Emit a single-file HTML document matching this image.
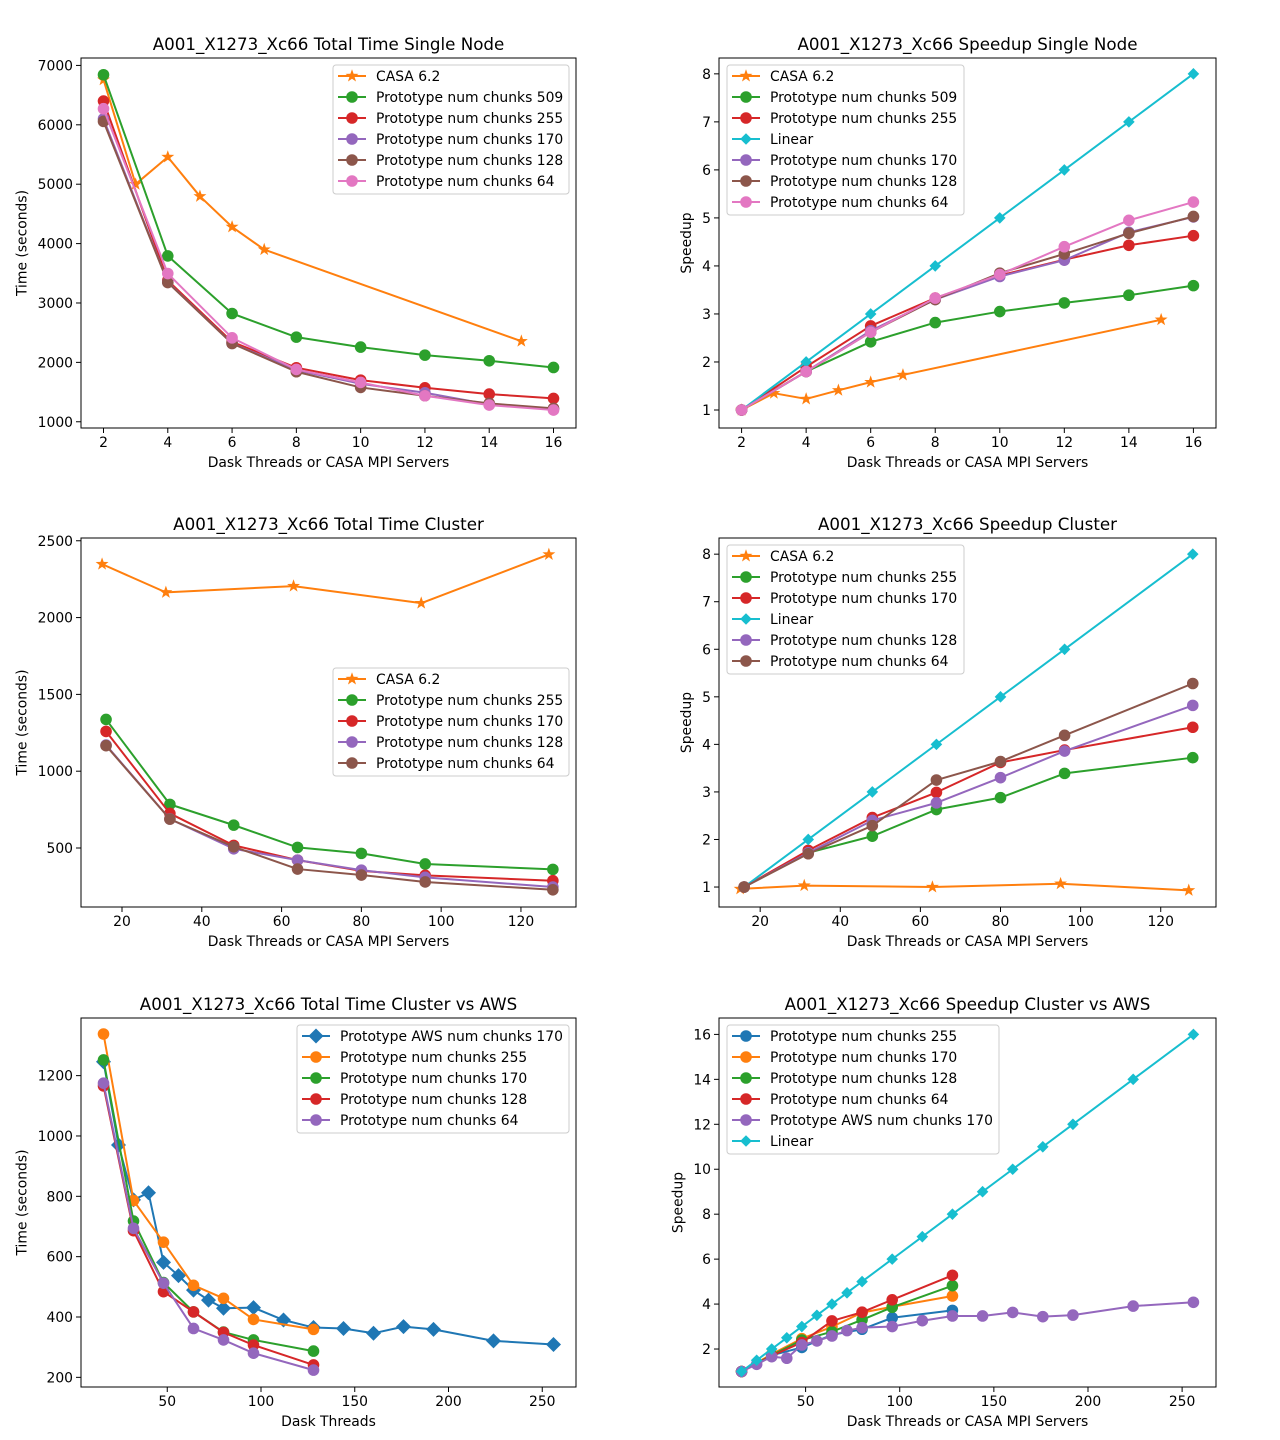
<!DOCTYPE html>
<html><head><meta charset="utf-8"><title>A001_X1273_Xc66 scaling charts</title>
<style>
html,body{margin:0;padding:0;background:#fff;}
svg{display:block;font-family:"DejaVu Sans","Liberation Sans",sans-serif;}
</style></head>
<body>
<svg id="fig" width="1280" height="1440" viewBox="0 0 1280 1440" xmlns="http://www.w3.org/2000/svg"></svg>
<script>
// ---------- Data ----------
const p1CasaX = [2,3,4,5,6,7,15];
const p1CasaY = [6759,5000,5458,4796,4281,3899,2357];
const p1ThreadsX = [2,4,6,8,10,12,14,16];
const p1Chunks509Y = [6843,3793,2823,2425,2257,2122,2027,1914];
const p1Chunks255Y = [6400,3380,2346,1909,1701,1572,1466,1393];
const p1Chunks170Y = [6100,3350,2320,1870,1640,1488,1290,1215];
const p1Chunks128Y = [6058,3344,2318,1842,1578,1438,1309,1225];
const p1Chunks64Y = [6271,3496,2413,1881,1662,1438,1281,1197];

const p2CasaY = [1,1.35,1.23,1.41,1.58,1.73,2.88];
const p2Chunks509Y = [1,1.8,2.42,2.82,3.05,3.23,3.39,3.59];
const p2Chunks255Y = [1,1.9,2.75,3.33,3.8,4.13,4.43,4.63];
const p2LinearY = [1,2,3,4,5,6,7,8];
const p2Chunks170Y = [1,1.8,2.65,3.3,3.78,4.12,4.7,5.02];
const p2Chunks128Y = [1,1.8,2.62,3.3,3.85,4.25,4.68,5.03];
const p2Chunks64Y = [1,1.8,2.62,3.33,3.82,4.4,4.95,5.33];

const p3CasaX = [15,31,63,95,127];
const p3CasaY = [2348,2164,2205,2094,2411];
const p3ThreadsX = [16,32,48,64,80,96,128];
const p3Chunks255Y = [1337,784,649,504,465,396,361];
const p3Chunks170Y = [1259,725,517,421,351,322,287];
const p3Chunks128Y = [1170,689,495,421,356,309,246];
const p3Chunks64Y = [1166,688,508,363,324,279,228];

const p4CasaY = [0.96,1.03,1.0,1.07,0.93];
const p4Chunks255Y = [1,1.72,2.07,2.63,2.88,3.39,3.72];
const p4Chunks170Y = [1,1.77,2.46,2.99,3.62,3.88,4.36];
const p4LinearY = [1,2,3,4,5,6,8];
const p4Chunks128Y = [1,1.72,2.4,2.77,3.30,3.86,4.82];
const p4Chunks64Y = [1,1.70,2.29,3.25,3.64,4.19,5.28];

const awsX = [16,24,32,40,48,56,64,72,80,96,112,128,144,160,176,192,224,256];
const p5AwsY = [1246,970,788,812,581,537,489,456,429,431,390,365,362,346,368,359,321,309];
const p5Chunks255Y = [1338,786,648,505,462,392,359];
const p5Chunks170Y = [1252,718,514,417,350,324,287];
const p5Chunks128Y = [1166,686,484,417,349,307,241];
const p5Chunks64Y = [1175,694,512,362,324,280,224];

const p6Chunks255Y = [1,1.72,2.07,2.63,2.88,3.39,3.72];
const p6Chunks170Y = [1,1.77,2.46,2.99,3.62,3.88,4.36];
const p6Chunks128Y = [1,1.72,2.4,2.77,3.30,3.86,4.82];
const p6Chunks64Y = [1,1.70,2.29,3.25,3.64,4.19,5.28];
const p6AwsY = [1,1.32,1.66,1.59,2.18,2.36,2.58,2.82,2.95,3.0,3.26,3.47,3.47,3.63,3.44,3.51,3.91,4.08];
const p6LinearY = [1,1.5,2,2.5,3,3.5,4,4.5,5,6,7,8,9,10,11,12,14,16];

const ticksSingleX = [2,4,6,8,10,12,14,16];
const ticksTimeSingleY = [1000,2000,3000,4000,5000,6000,7000];
const ticksSpeed8Y = [1,2,3,4,5,6,7,8];
const ticksClusterX = [20,40,60,80,100,120];
const ticksTimeClusterY = [500,1000,1500,2000,2500];
const ticksAwsX = [50,100,150,200,250];
const ticksTimeAwsY = [200,400,600,800,1000,1200];
const ticksSpeed16Y = [2,4,6,8,10,12,14,16];

// ---------- Rendering ----------
const C = {blue:'#1f77b4',orange:'#ff7f0e',green:'#2ca02c',red:'#d62728',purple:'#9467bd',brown:'#8c564b',pink:'#e377c2',cyan:'#17becf'};
const NS = 'http://www.w3.org/2000/svg';
const svg = document.getElementById('fig');
function mk(tag, attrs, parent){
  const e = document.createElementNS(NS, tag);
  for (const k in attrs) e.setAttribute(k, attrs[k]);
  (parent||svg).appendChild(e);
  return e;
}
function markerEl(kind, cx, cy, color, size, parent){
  let e;
  if (kind==='o'){
    e = mk('circle',{cx:cx,cy:cy,r:size||5.6,fill:color},parent);
  } else if (kind==='D'){
    const h = size||6;
    e = mk('path',{d:`M${cx},${cy-h}L${cx+h},${cy}L${cx},${cy+h}L${cx-h},${cy}Z`,fill:color},parent);
  } else {
    const R = size||6.5, r = R*0.4; let d='';
    for (let i=0;i<10;i++){
      const a = -Math.PI/2 + i*Math.PI/5; const rr = i%2?r:R;
      d += (i?'L':'M') + (cx+rr*Math.cos(a)).toFixed(2)+','+(cy+rr*Math.sin(a)).toFixed(2);
    }
    e = mk('path',{d:d+'Z',fill:color},parent);
  }
  return e;
}

const panels = [
 {id:'single-time', box:[81,58,576,428], xd:[1.3,16.7], yd:[895,7125], xt:ticksSingleX, yt:ticksTimeSingleY,
  title:'A001_X1273_Xc66 Total Time Single Node', xl:'Dask Threads or CASA MPI Servers', yl:'Time (seconds)',
  legend:[333,65,236],
  series:[['CASA 6.2',p1CasaX,p1CasaY,C.orange,'*'],['Prototype num chunks 509',p1ThreadsX,p1Chunks509Y,C.green,'o'],
   ['Prototype num chunks 255',p1ThreadsX,p1Chunks255Y,C.red,'o'],['Prototype num chunks 170',p1ThreadsX,p1Chunks170Y,C.purple,'o'],
   ['Prototype num chunks 128',p1ThreadsX,p1Chunks128Y,C.brown,'o'],['Prototype num chunks 64',p1ThreadsX,p1Chunks64Y,C.pink,'o']]},
 {id:'single-speedup', box:[719,58,1216,428], xd:[1.3,16.7], yd:[0.625,8.33], xt:ticksSingleX, yt:ticksSpeed8Y,
  title:'A001_X1273_Xc66 Speedup Single Node', xl:'Dask Threads or CASA MPI Servers', yl:'Speedup',
  legend:[727,65,237],
  series:[['CASA 6.2',p1CasaX,p2CasaY,C.orange,'*'],['Prototype num chunks 509',p1ThreadsX,p2Chunks509Y,C.green,'o'],
   ['Prototype num chunks 255',p1ThreadsX,p2Chunks255Y,C.red,'o'],['Linear',p1ThreadsX,p2LinearY,C.cyan,'D'],
   ['Prototype num chunks 170',p1ThreadsX,p2Chunks170Y,C.purple,'o'],['Prototype num chunks 128',p1ThreadsX,p2Chunks128Y,C.brown,'o'],
   ['Prototype num chunks 64',p1ThreadsX,p2Chunks64Y,C.pink,'o']]},
 {id:'cluster-time', box:[81,538,576,907], xd:[9.72,133.8], yd:[116,2518], xt:ticksClusterX, yt:ticksTimeClusterY,
  title:'A001_X1273_Xc66 Total Time Cluster', xl:'Dask Threads or CASA MPI Servers', yl:'Time (seconds)',
  legend:[333,668,236],
  series:[['CASA 6.2',p3CasaX,p3CasaY,C.orange,'*'],['Prototype num chunks 255',p3ThreadsX,p3Chunks255Y,C.green,'o'],
   ['Prototype num chunks 170',p3ThreadsX,p3Chunks170Y,C.red,'o'],['Prototype num chunks 128',p3ThreadsX,p3Chunks128Y,C.purple,'o'],
   ['Prototype num chunks 64',p3ThreadsX,p3Chunks64Y,C.brown,'o']]},
 {id:'cluster-speedup', box:[719,538,1216,907], xd:[9.72,133.8], yd:[0.58,8.34], xt:ticksClusterX, yt:ticksSpeed8Y,
  title:'A001_X1273_Xc66 Speedup Cluster', xl:'Dask Threads or CASA MPI Servers', yl:'Speedup',
  legend:[727,545,237],
  series:[['CASA 6.2',p3CasaX,p4CasaY,C.orange,'*'],['Prototype num chunks 255',p3ThreadsX,p4Chunks255Y,C.green,'o'],
   ['Prototype num chunks 170',p3ThreadsX,p4Chunks170Y,C.red,'o'],['Linear',p3ThreadsX,p4LinearY,C.cyan,'D'],
   ['Prototype num chunks 128',p3ThreadsX,p4Chunks128Y,C.purple,'o'],['Prototype num chunks 64',p3ThreadsX,p4Chunks64Y,C.brown,'o']]},
 {id:'aws-time', box:[81,1018,576,1387], xd:[4,268], yd:[168,1391], xt:ticksAwsX, yt:ticksTimeAwsY,
  title:'A001_X1273_Xc66 Total Time Cluster vs AWS', xl:'Dask Threads', yl:'Time (seconds)',
  legend:[297,1025,272],
  series:[['Prototype AWS num chunks 170',awsX,p5AwsY,C.blue,'DL'],['Prototype num chunks 255',p3ThreadsX,p5Chunks255Y,C.orange,'o'],
   ['Prototype num chunks 170',p3ThreadsX,p5Chunks170Y,C.green,'o'],['Prototype num chunks 128',p3ThreadsX,p5Chunks128Y,C.red,'o'],
   ['Prototype num chunks 64',p3ThreadsX,p5Chunks64Y,C.purple,'o']]},
 {id:'aws-speedup', box:[719,1018,1216,1387], xd:[4,268], yd:[0.31,16.73], xt:ticksAwsX, yt:ticksSpeed16Y,
  title:'A001_X1273_Xc66 Speedup Cluster vs AWS', xl:'Dask Threads or CASA MPI Servers', yl:'Speedup',
  legend:[727,1025,272],
  series:[['Prototype num chunks 255',p3ThreadsX,p6Chunks255Y,C.blue,'o'],['Prototype num chunks 170',p3ThreadsX,p6Chunks170Y,C.orange,'o'],
   ['Prototype num chunks 128',p3ThreadsX,p6Chunks128Y,C.green,'o'],['Prototype num chunks 64',p3ThreadsX,p6Chunks64Y,C.red,'o'],
   ['Prototype AWS num chunks 170',awsX,p6AwsY,C.purple,'o'],['Linear',awsX,p6LinearY,C.cyan,'D']]}
];

function mSize(kind){ return kind==='DL'?7.5:(kind==='D'?5.8:(kind==='o'?5.8:6.8)); }
function mKind(kind){ return kind==='DL'?'D':kind; }

panels.forEach(p=>{
  const [x0,y0,x1,y1] = p.box;
  const sx = v => x0 + (v-p.xd[0])/(p.xd[1]-p.xd[0])*(x1-x0);
  const sy = v => y1 - (v-p.yd[0])/(p.yd[1]-p.yd[0])*(y1-y0);
  const g = mk('g',{});
  
  

  const t = mk('text',{x:(x0+x1)/2,y:y0-8,'text-anchor':'middle','font-size':'16.7px',fill:'#000'},g);
  t.textContent = p.title;
  
  

  const xa = mk('g',{},g);
  
  
  p.xt.forEach(v=>{
    const x = sx(v);
    mk('line',{x1:x,y1:y1,x2:x,y2:y1+5,stroke:'#000','stroke-width':1},xa);
    const tl = mk('text',{x:x,y:y1+19,'text-anchor':'middle','font-size':'13.9px'},xa);
    tl.textContent = String(v);
    
    
  });
  const xl = mk('text',{x:(x0+x1)/2,y:y1+39,'text-anchor':'middle','font-size':'13.9px'},g);
  xl.textContent = p.xl;
  
  

  const ya = mk('g',{},g);
  
  
  p.yt.forEach(v=>{
    const y = sy(v);
    mk('line',{x1:x0-5,y1:y,x2:x0,y2:y,stroke:'#000','stroke-width':1},ya);
    const tl = mk('text',{x:x0-8,y:y+5,'text-anchor':'end','font-size':'13.9px'},ya);
    tl.textContent = String(v);
    
    
  });
  const maxLen = Math.max(...p.yt.map(v=>String(v).length));
  const ylx = x0 - 8 - maxLen*8.85 - 11;
  const yl = mk('text',{x:ylx,y:(y0+y1)/2,'text-anchor':'middle','font-size':'13.9px',transform:`rotate(-90 ${ylx} ${(y0+y1)/2})`},g);
  yl.textContent = p.yl;
  
  

  p.series.forEach(s=>{
    const [name,xs,ys,color,kind] = s;
    const sg = mk('g',{},g);
    
    
    const pts = xs.map((x,i)=>sx(x).toFixed(2)+','+sy(ys[i]).toFixed(2)).join(' ');
    const pl = mk('polyline',{points:pts,fill:'none',stroke:color,'stroke-width':2,'stroke-linejoin':'round'},sg);
    
    
    xs.forEach((x,i)=>{
      const m = markerEl(mKind(kind), sx(x), sy(ys[i]), color, mSize(kind), sg);
      
      
    });
  });

  const frame = mk('rect',{x:x0,y:y0,width:x1-x0,height:y1-y0,fill:'none',stroke:'#000','stroke-width':1},g);
  
  

  const [lx,ly,lw] = p.legend;
  const n = p.series.length;
  const lg = mk('g',{},g);
  
  
  mk('rect',{x:lx,y:ly,width:lw,height:n*21+3,rx:3,fill:'#fff','fill-opacity':0.8,stroke:'#cccccc','stroke-width':1},lg);
  p.series.forEach((s,i)=>{
    const [name,,,color,kind] = s;
    const cy = ly + 11 + i*21;
    const eg = mk('g',{},lg);
    
    
    mk('line',{x1:lx+5,y1:cy,x2:lx+33,y2:cy,stroke:color,'stroke-width':2},eg);
    markerEl(mKind(kind), lx+19, cy, color, mSize(kind), eg);
    const tx = mk('text',{x:lx+43,y:cy+5,'font-size':'13.9px'},eg);
    tx.textContent = name;
  });
});
</script>
</body></html>
